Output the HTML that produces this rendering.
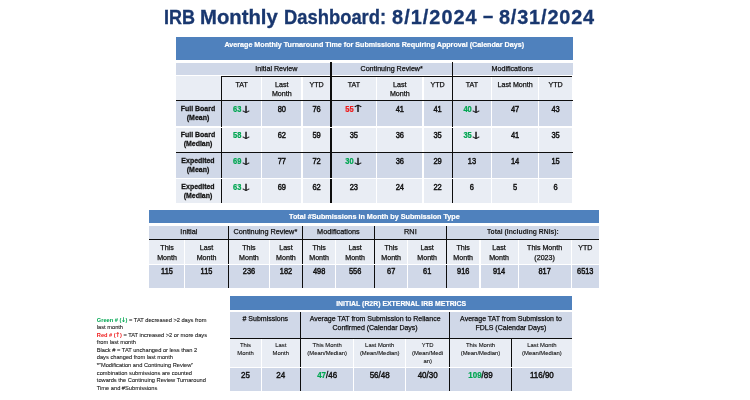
<!DOCTYPE html>
<html><head><meta charset="utf-8"><title>IRB Monthly Dashboard</title>
<style>
html,body{margin:0;padding:0;background:#fff}
body{width:750px;height:400px;position:relative;overflow:hidden;font-family:"Liberation Sans",sans-serif;color:#111}
.r{position:absolute}
.t{position:absolute;transform:translate(-50%,0);white-space:nowrap;text-align:center;-webkit-text-stroke:0.25px currentColor}
.t.d{-webkit-text-stroke:0.4px currentColor}
.t.lb{-webkit-text-stroke:0.25px currentColor}
.s{-webkit-text-stroke:0.1px currentColor}
.b{font-weight:bold;-webkit-text-stroke:0}
.w{color:#fff}
.t.w{-webkit-text-stroke:0.2px #fff}
.g{color:#00a651;font-weight:bold;-webkit-text-stroke:0.2px #00a651}
.rd{color:#ee1c1c;font-weight:bold;-webkit-text-stroke:0.2px #ee1c1c}
.ar{font-family:"DejaVu Sans",sans-serif;font-size:2em;line-height:0;color:#111;display:inline-block;transform:scale(1.18,0.6);margin-left:-2.3px;margin-right:-1.6px;position:relative;top:2.9px;-webkit-text-stroke:0 #111}
.ar.up{top:2.2px}
.la{font-family:"DejaVu Sans",sans-serif;font-size:1.15em;line-height:0;margin:0 -0.7px;position:relative;top:0.5px}
.title{position:absolute;left:0;top:2.6px;font-size:19.9px;font-weight:bold;color:#19376f;white-space:nowrap;line-height:28px;-webkit-text-stroke:0.3px #19376f}
.title span{position:absolute;top:0;transform-origin:0 50%}
.leg{position:absolute;left:96.8px;top:316.6px;font-size:5.7px;line-height:7.56px;color:#222;white-space:nowrap;-webkit-text-stroke:0.1px currentColor}
.leg b{-webkit-text-stroke:0}
.leg b.g{color:#00a651}.leg b.rd{color:#ee1c1c}
</style></head>
<body>
<div class="title"><span style="left:163.7px;transform:scaleX(0.905)">IRB</span> <span style="left:200.3px;transform:scaleX(1.02)">Monthly</span> <span style="left:284px;transform:scaleX(0.924)">Dashboard:</span> <span style="left:392.1px;letter-spacing:1.02px">8/1/2024</span> <span style="left:482.7px;top:-1.9px;transform:scale(0.92,1.05)">&ndash;</span> <span style="left:498.9px;letter-spacing:0.85px">8/31/2024</span></div>
<div class="r" style="left:176.00px;top:36.70px;width:396.50px;height:23.80px;background:#4f81bd"></div>
<div class="t w b" style="left:374.25px;top:41.00px;font-size:7.15px;line-height:8.58px">Average Monthly Turnaround Time for Submissions Requiring Approval (Calendar Days)</div>
<div class="r" style="left:176.00px;top:62.60px;width:396.50px;height:12.70px;background:#d0d8e8"></div>
<div class="r" style="left:176.00px;top:75.80px;width:45.10px;height:24.50px;background:#e9edf4"></div>
<div class="r" style="left:222.10px;top:75.80px;width:39.00px;height:24.50px;background:#e9edf4"></div>
<div class="r" style="left:262.10px;top:75.80px;width:39.40px;height:24.50px;background:#e9edf4"></div>
<div class="r" style="left:302.50px;top:75.80px;width:28.10px;height:24.50px;background:#e9edf4"></div>
<div class="r" style="left:331.60px;top:75.80px;width:44.50px;height:24.50px;background:#e9edf4"></div>
<div class="r" style="left:377.10px;top:75.80px;width:45.40px;height:24.50px;background:#e9edf4"></div>
<div class="r" style="left:423.50px;top:75.80px;width:28.20px;height:24.50px;background:#e9edf4"></div>
<div class="r" style="left:452.70px;top:75.80px;width:38.40px;height:24.50px;background:#e9edf4"></div>
<div class="r" style="left:492.10px;top:75.80px;width:46.00px;height:24.50px;background:#e9edf4"></div>
<div class="r" style="left:539.10px;top:75.80px;width:33.40px;height:24.50px;background:#e9edf4"></div>
<div class="r" style="left:176.00px;top:101.30px;width:45.10px;height:25.20px;background:#d0d8e8"></div>
<div class="r" style="left:222.10px;top:101.30px;width:39.00px;height:25.20px;background:#d0d8e8"></div>
<div class="r" style="left:262.10px;top:101.30px;width:39.40px;height:25.20px;background:#d0d8e8"></div>
<div class="r" style="left:302.50px;top:101.30px;width:28.10px;height:25.20px;background:#d0d8e8"></div>
<div class="r" style="left:331.60px;top:101.30px;width:44.50px;height:25.20px;background:#d0d8e8"></div>
<div class="r" style="left:377.10px;top:101.30px;width:45.40px;height:25.20px;background:#d0d8e8"></div>
<div class="r" style="left:423.50px;top:101.30px;width:28.20px;height:25.20px;background:#d0d8e8"></div>
<div class="r" style="left:452.70px;top:101.30px;width:38.40px;height:25.20px;background:#d0d8e8"></div>
<div class="r" style="left:492.10px;top:101.30px;width:46.00px;height:25.20px;background:#d0d8e8"></div>
<div class="r" style="left:539.10px;top:101.30px;width:33.40px;height:25.20px;background:#d0d8e8"></div>
<div class="r" style="left:176.00px;top:127.50px;width:45.10px;height:24.40px;background:#e9edf4"></div>
<div class="r" style="left:222.10px;top:127.50px;width:39.00px;height:24.40px;background:#e9edf4"></div>
<div class="r" style="left:262.10px;top:127.50px;width:39.40px;height:24.40px;background:#e9edf4"></div>
<div class="r" style="left:302.50px;top:127.50px;width:28.10px;height:24.40px;background:#e9edf4"></div>
<div class="r" style="left:331.60px;top:127.50px;width:44.50px;height:24.40px;background:#e9edf4"></div>
<div class="r" style="left:377.10px;top:127.50px;width:45.40px;height:24.40px;background:#e9edf4"></div>
<div class="r" style="left:423.50px;top:127.50px;width:28.20px;height:24.40px;background:#e9edf4"></div>
<div class="r" style="left:452.70px;top:127.50px;width:38.40px;height:24.40px;background:#e9edf4"></div>
<div class="r" style="left:492.10px;top:127.50px;width:46.00px;height:24.40px;background:#e9edf4"></div>
<div class="r" style="left:539.10px;top:127.50px;width:33.40px;height:24.40px;background:#e9edf4"></div>
<div class="r" style="left:176.00px;top:152.90px;width:45.10px;height:24.70px;background:#d0d8e8"></div>
<div class="r" style="left:222.10px;top:152.90px;width:39.00px;height:24.70px;background:#d0d8e8"></div>
<div class="r" style="left:262.10px;top:152.90px;width:39.40px;height:24.70px;background:#d0d8e8"></div>
<div class="r" style="left:302.50px;top:152.90px;width:28.10px;height:24.70px;background:#d0d8e8"></div>
<div class="r" style="left:331.60px;top:152.90px;width:44.50px;height:24.70px;background:#d0d8e8"></div>
<div class="r" style="left:377.10px;top:152.90px;width:45.40px;height:24.70px;background:#d0d8e8"></div>
<div class="r" style="left:423.50px;top:152.90px;width:28.20px;height:24.70px;background:#d0d8e8"></div>
<div class="r" style="left:452.70px;top:152.90px;width:38.40px;height:24.70px;background:#d0d8e8"></div>
<div class="r" style="left:492.10px;top:152.90px;width:46.00px;height:24.70px;background:#d0d8e8"></div>
<div class="r" style="left:539.10px;top:152.90px;width:33.40px;height:24.70px;background:#d0d8e8"></div>
<div class="r" style="left:176.00px;top:178.60px;width:45.10px;height:24.80px;background:#e9edf4"></div>
<div class="r" style="left:222.10px;top:178.60px;width:39.00px;height:24.80px;background:#e9edf4"></div>
<div class="r" style="left:262.10px;top:178.60px;width:39.40px;height:24.80px;background:#e9edf4"></div>
<div class="r" style="left:302.50px;top:178.60px;width:28.10px;height:24.80px;background:#e9edf4"></div>
<div class="r" style="left:331.60px;top:178.60px;width:44.50px;height:24.80px;background:#e9edf4"></div>
<div class="r" style="left:377.10px;top:178.60px;width:45.40px;height:24.80px;background:#e9edf4"></div>
<div class="r" style="left:423.50px;top:178.60px;width:28.20px;height:24.80px;background:#e9edf4"></div>
<div class="r" style="left:452.70px;top:178.60px;width:38.40px;height:24.80px;background:#e9edf4"></div>
<div class="r" style="left:492.10px;top:178.60px;width:46.00px;height:24.80px;background:#e9edf4"></div>
<div class="r" style="left:539.10px;top:178.60px;width:33.40px;height:24.80px;background:#e9edf4"></div>
<div class="t " style="left:276.35px;top:65.00px;font-size:7.15px;line-height:8.58px">Initial Review</div>
<div class="t " style="left:391.65px;top:65.00px;font-size:7.15px;line-height:8.58px">Continuing Review*</div>
<div class="t " style="left:512.35px;top:65.00px;font-size:7.15px;line-height:8.58px">Modifications</div>
<div class="t " style="left:241.60px;top:81.00px;font-size:7.1px;line-height:9.0px">TAT</div>
<div class="t " style="left:281.80px;top:81.00px;font-size:7.1px;line-height:9.0px">Last<br>Month</div>
<div class="t " style="left:316.55px;top:81.00px;font-size:7.1px;line-height:9.0px">YTD</div>
<div class="t " style="left:353.85px;top:81.00px;font-size:7.1px;line-height:9.0px">TAT</div>
<div class="t " style="left:399.80px;top:81.00px;font-size:7.1px;line-height:9.0px">Last<br>Month</div>
<div class="t " style="left:437.60px;top:81.00px;font-size:7.1px;line-height:9.0px">YTD</div>
<div class="t " style="left:471.90px;top:81.00px;font-size:7.1px;line-height:9.0px">TAT</div>
<div class="t " style="left:515.10px;top:81.00px;font-size:7.1px;line-height:9.0px">Last Month</div>
<div class="t " style="left:555.55px;top:81.00px;font-size:7.1px;line-height:9.0px">YTD</div>
<div class="t b lb" style="left:198.20px;top:105.20px;font-size:7.25px;line-height:8.182px;transform-origin:50% 6px;transform:translate(-50%,0) scale(0.96,1.1)">Full Board<br>(Mean)</div>
<div class="t d" style="left:241.60px;top:105.80px;font-size:7.5px;line-height:8.036px;transform-origin:50% 6px;transform:translate(-50%,0) scale(1,1.12)"><span class="g">63</span><span class="ar">&#8595;</span></div>
<div class="t d" style="left:281.80px;top:105.80px;font-size:7.5px;line-height:8.036px;transform-origin:50% 6px;transform:translate(-50%,0) scale(1,1.12)">80</div>
<div class="t d" style="left:316.55px;top:105.80px;font-size:7.5px;line-height:8.036px;transform-origin:50% 6px;transform:translate(-50%,0) scale(1,1.12)">76</div>
<div class="t d" style="left:353.85px;top:105.80px;font-size:7.5px;line-height:8.036px;transform-origin:50% 6px;transform:translate(-50%,0) scale(1,1.12)"><span class="rd">55</span><span class="ar up">&#8593;</span></div>
<div class="t d" style="left:399.80px;top:105.80px;font-size:7.5px;line-height:8.036px;transform-origin:50% 6px;transform:translate(-50%,0) scale(1,1.12)">41</div>
<div class="t d" style="left:437.60px;top:105.80px;font-size:7.5px;line-height:8.036px;transform-origin:50% 6px;transform:translate(-50%,0) scale(1,1.12)">41</div>
<div class="t d" style="left:471.90px;top:105.80px;font-size:7.5px;line-height:8.036px;transform-origin:50% 6px;transform:translate(-50%,0) scale(1,1.12)"><span class="g">40</span><span class="ar">&#8595;</span></div>
<div class="t d" style="left:515.10px;top:105.80px;font-size:7.5px;line-height:8.036px;transform-origin:50% 6px;transform:translate(-50%,0) scale(1,1.12)">47</div>
<div class="t d" style="left:555.55px;top:105.80px;font-size:7.5px;line-height:8.036px;transform-origin:50% 6px;transform:translate(-50%,0) scale(1,1.12)">43</div>
<div class="t b lb" style="left:198.20px;top:131.30px;font-size:7.25px;line-height:8.182px;transform-origin:50% 6px;transform:translate(-50%,0) scale(0.96,1.1)">Full Board<br>(Median)</div>
<div class="t d" style="left:241.60px;top:132.40px;font-size:7.5px;line-height:8.036px;transform-origin:50% 6px;transform:translate(-50%,0) scale(1,1.12)"><span class="g">58</span><span class="ar">&#8595;</span></div>
<div class="t d" style="left:281.80px;top:132.40px;font-size:7.5px;line-height:8.036px;transform-origin:50% 6px;transform:translate(-50%,0) scale(1,1.12)">62</div>
<div class="t d" style="left:316.55px;top:132.40px;font-size:7.5px;line-height:8.036px;transform-origin:50% 6px;transform:translate(-50%,0) scale(1,1.12)">59</div>
<div class="t d" style="left:353.85px;top:132.40px;font-size:7.5px;line-height:8.036px;transform-origin:50% 6px;transform:translate(-50%,0) scale(1,1.12)">35</div>
<div class="t d" style="left:399.80px;top:132.40px;font-size:7.5px;line-height:8.036px;transform-origin:50% 6px;transform:translate(-50%,0) scale(1,1.12)">36</div>
<div class="t d" style="left:437.60px;top:132.40px;font-size:7.5px;line-height:8.036px;transform-origin:50% 6px;transform:translate(-50%,0) scale(1,1.12)">35</div>
<div class="t d" style="left:471.90px;top:132.40px;font-size:7.5px;line-height:8.036px;transform-origin:50% 6px;transform:translate(-50%,0) scale(1,1.12)"><span class="g">35</span><span class="ar">&#8595;</span></div>
<div class="t d" style="left:515.10px;top:132.40px;font-size:7.5px;line-height:8.036px;transform-origin:50% 6px;transform:translate(-50%,0) scale(1,1.12)">41</div>
<div class="t d" style="left:555.55px;top:132.40px;font-size:7.5px;line-height:8.036px;transform-origin:50% 6px;transform:translate(-50%,0) scale(1,1.12)">35</div>
<div class="t b lb" style="left:198.20px;top:156.70px;font-size:7.25px;line-height:8.182px;transform-origin:50% 6px;transform:translate(-50%,0) scale(0.96,1.1)">Expedited<br>(Mean)</div>
<div class="t d" style="left:241.60px;top:157.80px;font-size:7.5px;line-height:8.036px;transform-origin:50% 6px;transform:translate(-50%,0) scale(1,1.12)"><span class="g">69</span><span class="ar">&#8595;</span></div>
<div class="t d" style="left:281.80px;top:157.80px;font-size:7.5px;line-height:8.036px;transform-origin:50% 6px;transform:translate(-50%,0) scale(1,1.12)">77</div>
<div class="t d" style="left:316.55px;top:157.80px;font-size:7.5px;line-height:8.036px;transform-origin:50% 6px;transform:translate(-50%,0) scale(1,1.12)">72</div>
<div class="t d" style="left:353.85px;top:157.80px;font-size:7.5px;line-height:8.036px;transform-origin:50% 6px;transform:translate(-50%,0) scale(1,1.12)"><span class="g">30</span><span class="ar">&#8595;</span></div>
<div class="t d" style="left:399.80px;top:157.80px;font-size:7.5px;line-height:8.036px;transform-origin:50% 6px;transform:translate(-50%,0) scale(1,1.12)">36</div>
<div class="t d" style="left:437.60px;top:157.80px;font-size:7.5px;line-height:8.036px;transform-origin:50% 6px;transform:translate(-50%,0) scale(1,1.12)">29</div>
<div class="t d" style="left:471.90px;top:157.80px;font-size:7.5px;line-height:8.036px;transform-origin:50% 6px;transform:translate(-50%,0) scale(1,1.12)">13</div>
<div class="t d" style="left:515.10px;top:157.80px;font-size:7.5px;line-height:8.036px;transform-origin:50% 6px;transform:translate(-50%,0) scale(1,1.12)">14</div>
<div class="t d" style="left:555.55px;top:157.80px;font-size:7.5px;line-height:8.036px;transform-origin:50% 6px;transform:translate(-50%,0) scale(1,1.12)">15</div>
<div class="t b lb" style="left:198.20px;top:182.70px;font-size:7.25px;line-height:8.182px;transform-origin:50% 6px;transform:translate(-50%,0) scale(0.96,1.1)">Expedited<br>(Median)</div>
<div class="t d" style="left:241.60px;top:183.50px;font-size:7.5px;line-height:8.036px;transform-origin:50% 6px;transform:translate(-50%,0) scale(1,1.12)"><span class="g">63</span><span class="ar">&#8595;</span></div>
<div class="t d" style="left:281.80px;top:183.50px;font-size:7.5px;line-height:8.036px;transform-origin:50% 6px;transform:translate(-50%,0) scale(1,1.12)">69</div>
<div class="t d" style="left:316.55px;top:183.50px;font-size:7.5px;line-height:8.036px;transform-origin:50% 6px;transform:translate(-50%,0) scale(1,1.12)">62</div>
<div class="t d" style="left:353.85px;top:183.50px;font-size:7.5px;line-height:8.036px;transform-origin:50% 6px;transform:translate(-50%,0) scale(1,1.12)">23</div>
<div class="t d" style="left:399.80px;top:183.50px;font-size:7.5px;line-height:8.036px;transform-origin:50% 6px;transform:translate(-50%,0) scale(1,1.12)">24</div>
<div class="t d" style="left:437.60px;top:183.50px;font-size:7.5px;line-height:8.036px;transform-origin:50% 6px;transform:translate(-50%,0) scale(1,1.12)">22</div>
<div class="t d" style="left:471.90px;top:183.50px;font-size:7.5px;line-height:8.036px;transform-origin:50% 6px;transform:translate(-50%,0) scale(1,1.12)">6</div>
<div class="t d" style="left:515.10px;top:183.50px;font-size:7.5px;line-height:8.036px;transform-origin:50% 6px;transform:translate(-50%,0) scale(1,1.12)">5</div>
<div class="t d" style="left:555.55px;top:183.50px;font-size:7.5px;line-height:8.036px;transform-origin:50% 6px;transform:translate(-50%,0) scale(1,1.12)">6</div>
<div class="r" style="left:221.60px;top:76.12px;width:350.90px;height:1.35px;background:#0d0d0d"></div>
<div class="r" style="left:176.00px;top:100.12px;width:396.50px;height:1.35px;background:#0d0d0d"></div>
<div class="r" style="left:176.00px;top:151.72px;width:396.50px;height:1.35px;background:#0d0d0d"></div>
<div class="r" style="left:220.90px;top:76.10px;width:1.40px;height:127.30px;background:#0d0d0d"></div>
<div class="r" style="left:330.40px;top:62.40px;width:1.40px;height:141.00px;background:#0d0d0d"></div>
<div class="r" style="left:451.50px;top:62.40px;width:1.40px;height:141.00px;background:#0d0d0d"></div>
<div class="r" style="left:176.00px;top:126.60px;width:396.50px;height:0.80px;background:#fff"></div>
<div class="r" style="left:176.00px;top:177.70px;width:396.50px;height:0.80px;background:#fff"></div>
<div class="r" style="left:149.40px;top:209.50px;width:450.00px;height:13.70px;background:#4f81bd"></div>
<div class="t w b" style="left:374.40px;top:213.00px;font-size:7.2px;line-height:8.64px">Total #Submissions in Month by Submission Type</div>
<div class="r" style="left:149.40px;top:225.80px;width:78.50px;height:13.20px;background:#d0d8e8"></div>
<div class="t " style="left:188.90px;top:228.00px;font-size:7.3px;line-height:8.76px">Initial</div>
<div class="r" style="left:228.90px;top:225.80px;width:73.00px;height:13.20px;background:#d0d8e8"></div>
<div class="t " style="left:265.40px;top:228.00px;font-size:7.3px;line-height:8.76px">Continuing Review*</div>
<div class="r" style="left:302.90px;top:225.80px;width:71.00px;height:13.20px;background:#d0d8e8"></div>
<div class="t " style="left:338.40px;top:228.00px;font-size:7.3px;line-height:8.76px">Modifications</div>
<div class="r" style="left:374.90px;top:225.80px;width:71.00px;height:13.20px;background:#d0d8e8"></div>
<div class="t " style="left:410.40px;top:228.00px;font-size:7.3px;line-height:8.76px">RNI</div>
<div class="r" style="left:446.90px;top:225.80px;width:152.50px;height:13.20px;background:#d0d8e8"></div>
<div class="t b" style="left:522.90px;top:228.00px;font-size:6.8px;line-height:8.16px">Total (Including RNIs):</div>
<div class="r" style="left:149.40px;top:239.50px;width:34.70px;height:24.20px;background:#e9edf4"></div>
<div class="r" style="left:149.40px;top:264.70px;width:34.70px;height:22.90px;background:#d0d8e8"></div>
<div class="t " style="left:167.00px;top:244.00px;font-size:7.1px;line-height:9.65px">This<br>Month</div>
<div class="t d" style="left:167.00px;top:268.40px;font-size:7.4px;line-height:7.929px;transform-origin:50% 6px;transform:translate(-50%,0) scale(1,1.12)">115</div>
<div class="r" style="left:185.10px;top:239.50px;width:42.80px;height:24.20px;background:#e9edf4"></div>
<div class="r" style="left:185.10px;top:264.70px;width:42.80px;height:22.90px;background:#d0d8e8"></div>
<div class="t " style="left:206.50px;top:244.00px;font-size:7.1px;line-height:9.65px">Last<br>Month</div>
<div class="t d" style="left:206.50px;top:268.40px;font-size:7.4px;line-height:7.929px;transform-origin:50% 6px;transform:translate(-50%,0) scale(1,1.12)">115</div>
<div class="r" style="left:228.90px;top:239.50px;width:40.10px;height:24.20px;background:#e9edf4"></div>
<div class="r" style="left:228.90px;top:264.70px;width:40.10px;height:22.90px;background:#d0d8e8"></div>
<div class="t " style="left:248.95px;top:244.00px;font-size:7.1px;line-height:9.65px">This<br>Month</div>
<div class="t d" style="left:248.95px;top:268.40px;font-size:7.4px;line-height:7.929px;transform-origin:50% 6px;transform:translate(-50%,0) scale(1,1.12)">236</div>
<div class="r" style="left:270.00px;top:239.50px;width:31.90px;height:24.20px;background:#e9edf4"></div>
<div class="r" style="left:270.00px;top:264.70px;width:31.90px;height:22.90px;background:#d0d8e8"></div>
<div class="t " style="left:285.95px;top:244.00px;font-size:7.1px;line-height:9.65px">Last<br>Month</div>
<div class="t d" style="left:285.95px;top:268.40px;font-size:7.4px;line-height:7.929px;transform-origin:50% 6px;transform:translate(-50%,0) scale(1,1.12)">182</div>
<div class="r" style="left:302.90px;top:239.50px;width:32.40px;height:24.20px;background:#e9edf4"></div>
<div class="r" style="left:302.90px;top:264.70px;width:32.40px;height:22.90px;background:#d0d8e8"></div>
<div class="t " style="left:319.10px;top:244.00px;font-size:7.1px;line-height:9.65px">This<br>Month</div>
<div class="t d" style="left:319.10px;top:268.40px;font-size:7.4px;line-height:7.929px;transform-origin:50% 6px;transform:translate(-50%,0) scale(1,1.12)">498</div>
<div class="r" style="left:336.30px;top:239.50px;width:37.60px;height:24.20px;background:#e9edf4"></div>
<div class="r" style="left:336.30px;top:264.70px;width:37.60px;height:22.90px;background:#d0d8e8"></div>
<div class="t " style="left:355.10px;top:244.00px;font-size:7.1px;line-height:9.65px">Last<br>Month</div>
<div class="t d" style="left:355.10px;top:268.40px;font-size:7.4px;line-height:7.929px;transform-origin:50% 6px;transform:translate(-50%,0) scale(1,1.12)">556</div>
<div class="r" style="left:374.90px;top:239.50px;width:32.50px;height:24.20px;background:#e9edf4"></div>
<div class="r" style="left:374.90px;top:264.70px;width:32.50px;height:22.90px;background:#d0d8e8"></div>
<div class="t " style="left:391.15px;top:244.00px;font-size:7.1px;line-height:9.65px">This<br>Month</div>
<div class="t d" style="left:391.15px;top:268.40px;font-size:7.4px;line-height:7.929px;transform-origin:50% 6px;transform:translate(-50%,0) scale(1,1.12)">67</div>
<div class="r" style="left:408.40px;top:239.50px;width:37.50px;height:24.20px;background:#e9edf4"></div>
<div class="r" style="left:408.40px;top:264.70px;width:37.50px;height:22.90px;background:#d0d8e8"></div>
<div class="t " style="left:427.15px;top:244.00px;font-size:7.1px;line-height:9.65px">Last<br>Month</div>
<div class="t d" style="left:427.15px;top:268.40px;font-size:7.4px;line-height:7.929px;transform-origin:50% 6px;transform:translate(-50%,0) scale(1,1.12)">61</div>
<div class="r" style="left:446.90px;top:239.50px;width:32.60px;height:24.20px;background:#e9edf4"></div>
<div class="r" style="left:446.90px;top:264.70px;width:32.60px;height:22.90px;background:#d0d8e8"></div>
<div class="t " style="left:463.20px;top:244.00px;font-size:7.1px;line-height:9.65px">This<br>Month</div>
<div class="t d" style="left:463.20px;top:268.40px;font-size:7.4px;line-height:7.929px;transform-origin:50% 6px;transform:translate(-50%,0) scale(1,1.12)">916</div>
<div class="r" style="left:480.50px;top:239.50px;width:37.10px;height:24.20px;background:#e9edf4"></div>
<div class="r" style="left:480.50px;top:264.70px;width:37.10px;height:22.90px;background:#d0d8e8"></div>
<div class="t " style="left:499.05px;top:244.00px;font-size:7.1px;line-height:9.65px">Last<br>Month</div>
<div class="t d" style="left:499.05px;top:268.40px;font-size:7.4px;line-height:7.929px;transform-origin:50% 6px;transform:translate(-50%,0) scale(1,1.12)">914</div>
<div class="r" style="left:518.60px;top:239.50px;width:52.00px;height:24.20px;background:#e9edf4"></div>
<div class="r" style="left:518.60px;top:264.70px;width:52.00px;height:22.90px;background:#d0d8e8"></div>
<div class="t " style="left:544.60px;top:244.00px;font-size:7.1px;line-height:9.65px">This Month<br>(2023)</div>
<div class="t d" style="left:544.60px;top:268.40px;font-size:7.4px;line-height:7.929px;transform-origin:50% 6px;transform:translate(-50%,0) scale(1,1.12)">817</div>
<div class="r" style="left:571.60px;top:239.50px;width:27.80px;height:24.20px;background:#e9edf4"></div>
<div class="r" style="left:571.60px;top:264.70px;width:27.80px;height:22.90px;background:#d0d8e8"></div>
<div class="t " style="left:585.25px;top:244.00px;font-size:7.1px;line-height:9.65px">YTD</div>
<div class="t d" style="left:585.25px;top:268.40px;font-size:7.4px;line-height:7.929px;transform-origin:50% 6px;transform:translate(-50%,0) scale(1,1.12)">6513</div>
<div class="r" style="left:149.40px;top:238.62px;width:450.00px;height:1.45px;background:#0d0d0d"></div>
<div class="r" style="left:227.72px;top:225.80px;width:1.35px;height:61.80px;background:#0d0d0d"></div>
<div class="r" style="left:301.72px;top:225.80px;width:1.35px;height:61.80px;background:#0d0d0d"></div>
<div class="r" style="left:373.72px;top:225.80px;width:1.35px;height:61.80px;background:#0d0d0d"></div>
<div class="r" style="left:445.72px;top:225.80px;width:1.35px;height:61.80px;background:#0d0d0d"></div>
<div class="r" style="left:149.40px;top:263.80px;width:450.00px;height:0.80px;background:#fff"></div>
<div class="r" style="left:230.00px;top:296.00px;width:342.30px;height:13.80px;background:#4f81bd"></div>
<div class="t w b" style="left:401.15px;top:300.00px;font-size:6.9px;line-height:8.28px">INITIAL (R2R) EXTERNAL IRB METRICS</div>
<div class="r" style="left:230.00px;top:312.00px;width:70.10px;height:26.20px;background:#d0d8e8"></div>
<div class="t " style="left:265.30px;top:315.00px;font-size:7.0px;line-height:8.7px"># Submissions</div>
<div class="r" style="left:301.10px;top:312.00px;width:148.00px;height:26.20px;background:#d0d8e8"></div>
<div class="t " style="left:375.10px;top:315.00px;font-size:7.0px;line-height:8.7px">Average TAT from Submission to Reliance<br>Confirmed (Calendar Days)</div>
<div class="r" style="left:450.10px;top:312.00px;width:122.20px;height:26.20px;background:#d0d8e8"></div>
<div class="t " style="left:510.95px;top:315.00px;font-size:7.0px;line-height:8.7px">Average TAT from Submission to<br>FDLS (Calendar Days)</div>
<div class="r" style="left:230.00px;top:339.00px;width:30.50px;height:28.10px;background:#e9edf4"></div>
<div class="r" style="left:230.00px;top:368.10px;width:30.50px;height:22.90px;background:#d0d8e8"></div>
<div class="t s" style="left:245.50px;top:342.00px;font-size:5.9px;line-height:7.8px">This<br>Month</div>
<div class="t d" style="left:245.50px;top:372.10px;font-size:8.0px;line-height:8.727px;transform-origin:50% 6px;transform:translate(-50%,0) scale(1,1.1)">25</div>
<div class="r" style="left:261.50px;top:339.00px;width:38.60px;height:28.10px;background:#e9edf4"></div>
<div class="r" style="left:261.50px;top:368.10px;width:38.60px;height:22.90px;background:#d0d8e8"></div>
<div class="t s" style="left:280.80px;top:342.00px;font-size:5.9px;line-height:7.8px">Last<br>Month</div>
<div class="t d" style="left:280.80px;top:372.10px;font-size:8.0px;line-height:8.727px;transform-origin:50% 6px;transform:translate(-50%,0) scale(1,1.1)">24</div>
<div class="r" style="left:301.10px;top:339.00px;width:52.10px;height:28.10px;background:#e9edf4"></div>
<div class="r" style="left:301.10px;top:368.10px;width:52.10px;height:22.90px;background:#d0d8e8"></div>
<div class="t s" style="left:327.15px;top:342.00px;font-size:5.9px;line-height:7.8px">This Month<br>(Mean/Median)</div>
<div class="t d" style="left:327.15px;top:372.10px;font-size:8.0px;line-height:8.727px;transform-origin:50% 6px;transform:translate(-50%,0) scale(1,1.1)"><span class="g">47</span>/46</div>
<div class="r" style="left:354.20px;top:339.00px;width:51.00px;height:28.10px;background:#e9edf4"></div>
<div class="r" style="left:354.20px;top:368.10px;width:51.00px;height:22.90px;background:#d0d8e8"></div>
<div class="t s" style="left:379.70px;top:342.00px;font-size:5.9px;line-height:7.8px">Last Month<br>(Mean/Median)</div>
<div class="t d" style="left:379.70px;top:372.10px;font-size:8.0px;line-height:8.727px;transform-origin:50% 6px;transform:translate(-50%,0) scale(1,1.1)">56/48</div>
<div class="r" style="left:406.20px;top:339.00px;width:42.90px;height:28.10px;background:#e9edf4"></div>
<div class="r" style="left:406.20px;top:368.10px;width:42.90px;height:22.90px;background:#d0d8e8"></div>
<div class="t s" style="left:427.65px;top:342.00px;font-size:5.9px;line-height:7.8px">YTD<br>(Mean/Medi<br>an)</div>
<div class="t d" style="left:427.65px;top:372.10px;font-size:8.0px;line-height:8.727px;transform-origin:50% 6px;transform:translate(-50%,0) scale(1,1.1)">40/30</div>
<div class="r" style="left:450.10px;top:339.00px;width:60.80px;height:28.10px;background:#e9edf4"></div>
<div class="r" style="left:450.10px;top:368.10px;width:60.80px;height:22.90px;background:#d0d8e8"></div>
<div class="t s" style="left:480.50px;top:342.00px;font-size:5.9px;line-height:7.8px">This Month<br>(Mean/Median)</div>
<div class="t d" style="left:480.50px;top:372.10px;font-size:8.0px;line-height:8.727px;transform-origin:50% 6px;transform:translate(-50%,0) scale(1,1.1)"><span class="g">109</span>/89</div>
<div class="r" style="left:511.90px;top:339.00px;width:60.40px;height:28.10px;background:#e9edf4"></div>
<div class="r" style="left:511.90px;top:368.10px;width:60.40px;height:22.90px;background:#d0d8e8"></div>
<div class="t s" style="left:541.85px;top:342.00px;font-size:5.9px;line-height:7.8px">Last Month<br>(Mean/Median)</div>
<div class="t d" style="left:541.85px;top:372.10px;font-size:8.0px;line-height:8.727px;transform-origin:50% 6px;transform:translate(-50%,0) scale(1,1.1)">116/90</div>
<div class="r" style="left:230.00px;top:337.97px;width:342.30px;height:1.45px;background:#0d0d0d"></div>
<div class="r" style="left:299.93px;top:312.00px;width:1.35px;height:79.00px;background:#0d0d0d"></div>
<div class="r" style="left:448.90px;top:312.00px;width:1.40px;height:79.00px;background:#0d0d0d"></div>
<div class="r" style="left:510.70px;top:339.00px;width:1.40px;height:52.00px;background:#0d0d0d"></div>
<div class="r" style="left:230.00px;top:367.20px;width:342.30px;height:0.80px;background:#fff"></div>
<div class="leg"><div><b class="g">Green # (<span class="la">&#8595;</span>)</b> = TAT decreased &gt;2 days from</div><div>last month</div><div><b class="rd">Red # (<span class="la">&#8593;</span>)</b> = TAT increased &gt;2 or more days</div><div>from last month</div><div>Black # = TAT unchanged or less than 2</div><div>days changed from last month</div><div>*&rdquo;Modification and Continuing Review&rdquo;</div><div>combination submissions are counted</div><div>towards the Continuing Review Turnaround</div><div>Time and #Submissions</div></div>
</body></html>
